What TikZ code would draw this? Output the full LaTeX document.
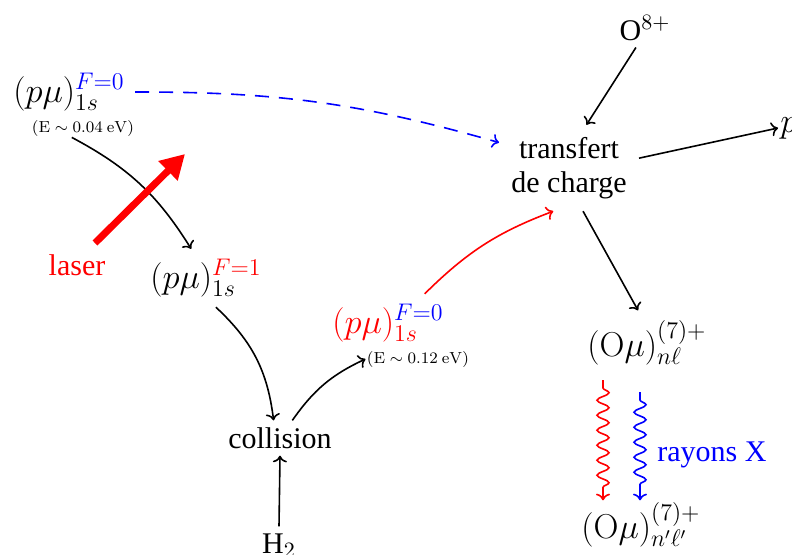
\documentclass[tikz,border=0pt]{standalone}
\usepackage[no-math]{fontspec}
\setmainfont{Liberation Serif}
\usetikzlibrary{arrows.meta,decorations.pathmorphing}

\begin{document}
\begin{tikzpicture}[x=0.5pt,y=-0.5pt,>=To,font=\fontsize{15}{17}\selectfont,
  arr/.style={->,line width=0.8pt},
  state/.style={font=\fontsize{16.5}{19}\selectfont,inner sep=1pt},
  ener/.style={font=\fontsize{8}{9}\selectfont,inner sep=0.5pt},
  wave/.style={->,line width=0.8pt,decorate,decoration={snake,amplitude=3pt,segment length=7.5pt,pre length=4pt,post length=5pt}}]
\useasboundingbox (0,0) rectangle (792,554);
% etats du muonium
\node[state] (pmuA) at (69,92) {$(p\mu)^{\textcolor{blue}{F=0}}_{1s}$};
\node[ener] (enA) at (83,128) {$(\mathrm{E}\sim0.04~\mathrm{eV})$};
\node[state] (pmuB) at (206,278) {$(p\mu)^{\textcolor{red}{F=1}}_{1s}$};
\node[state] (pmuC) at (388,323) {$\textcolor{red}{(p\mu)}^{\textcolor{blue}{F=0}}_{\textcolor{red}{1s}}$};
\node[ener] (enC) at (418,359) {$(\mathrm{E}\sim0.12~\mathrm{eV})$};
\node[red] (laser) at (77,265) {laser};
\node (coll) at (280,438) {collision};
\node[anchor=base] (htwo) at (279,553) {H$_2$};
\node[align=center,inner sep=6pt] (tdc) at (569,168) {transfert\\de charge};
\node (oeight) at (645,28) {O$^{8+}$};
\node[state,anchor=west] (pout) at (778,128) {$p$};
\node[state] (omuA) at (647,343) {$(\mathrm{O}\mu)^{(7)+}_{n\ell}$};
\node[state] (omuB) at (641,525) {$(\mathrm{O}\mu)^{(7)+}_{n'\ell'}$};
\node[blue] (rayx) at (712,455) {rayons X};
\coordinate (redtop) at (603,380);
\coordinate (bluetop) at (640,392);
% fleches
\draw[arr] (enA.-140) to[bend left=15] ([yshift=4pt]pmuB.125);
\draw[red,line width=3.5pt,-{Triangle[length=12pt,width=13pt]}] (95,243) -- (185,154);
\draw[arr] ([yshift=-4pt]pmuB.-65) to[bend left=20] (coll.110);
\draw[arr] (htwo.north) -- (coll.south);
\draw[arr] (coll.55) to[bend left=15] (enC.west);
\draw[red,arr] ([yshift=4pt]pmuC.30) to[bend left=12] (tdc.-110);
\draw[blue,arr,dash pattern=on 7pt off 5pt] ([xshift=4pt]pmuA.0) to[bend left=8] (tdc.160);
\draw[arr] (oeight.-115) -- (tdc.68);
\draw[arr] (tdc.8) -- (pout.west);
\draw[arr] (tdc.-72) -- ([yshift=4pt]omuA.110);
\draw[wave,red] (redtop) -- (redtop |- omuB.north);
\draw[wave,blue] (bluetop) -- (bluetop |- omuB.north);
\end{tikzpicture}
\end{document}
